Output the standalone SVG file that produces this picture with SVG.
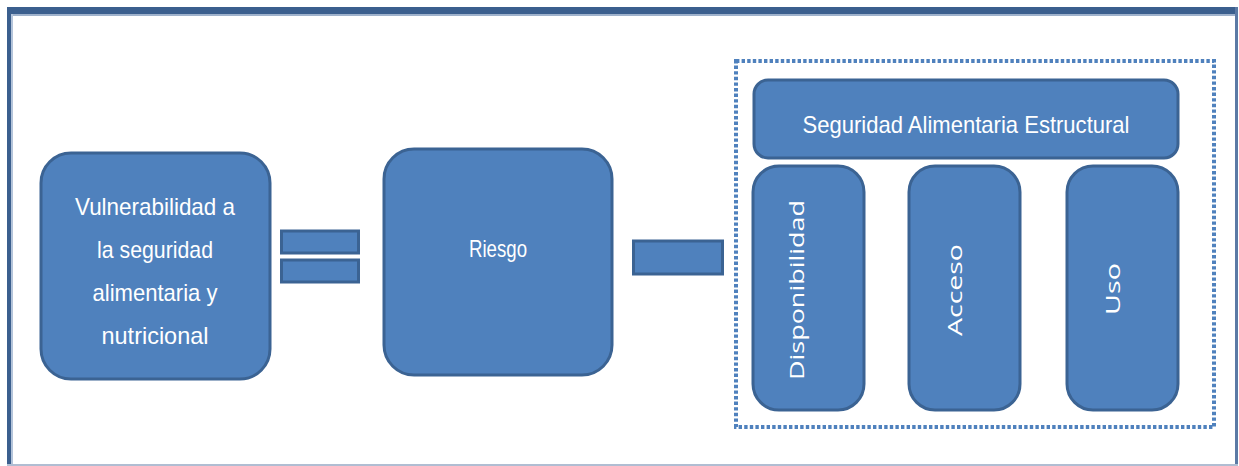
<svg xmlns="http://www.w3.org/2000/svg" width="1239" height="466" viewBox="0 0 1239 466">
<defs>
<style>
.box{fill:#4f81bd;stroke:#3b6393;stroke-width:3}
.op{fill:#4f81bd;stroke:#3b6393;stroke-width:3}
.t{font-family:"Liberation Sans Narrow","Liberation Sans",Arial,sans-serif;fill:#ffffff;font-size:24px;text-anchor:middle}
.v{font-family:"Open Sans","DejaVu Sans",sans-serif;fill:#ffffff;font-size:20px;text-anchor:middle}
</style>
</defs>
<rect x="0" y="0" width="1239" height="466" fill="#ffffff"/>
<g id="frame">
<rect x="7" y="7" width="1231" height="7" fill="#3b5f8e"/>
<rect x="7" y="14" width="1231" height="2" fill="#9fb2cc"/>
<rect x="7" y="7" width="4" height="459" fill="#3b5f8e"/>
<rect x="11" y="14" width="2" height="452" fill="#b4c4da"/>
<rect x="1235" y="7" width="3" height="459" fill="#5b7aa5"/>
<rect x="7" y="464" width="1231" height="2" fill="#b0bdd2"/>
</g>
<g id="group-dotted">
<rect x="736" y="61" width="478" height="366" fill="none" stroke="#4f81bd" stroke-width="4" stroke-dasharray="3.4 2.2"/>
</g>
<g id="vulnerabilidad">
<rect class="box" x="41" y="153" width="229" height="226" rx="30"/>
<text class="t" x="155" y="215" textLength="160" lengthAdjust="spacingAndGlyphs">Vulnerabilidad a</text>
<text class="t" x="155" y="258" textLength="116" lengthAdjust="spacingAndGlyphs">la seguridad</text>
<text class="t" x="155" y="301" textLength="125" lengthAdjust="spacingAndGlyphs">alimentaria y</text>
<text class="t" x="155" y="344" textLength="107" lengthAdjust="spacingAndGlyphs">nutricional</text>
</g>
<g id="riesgo">
<rect class="box" x="384" y="149" width="228" height="226" rx="30"/>
<text class="t" x="498" y="257" textLength="58" lengthAdjust="spacingAndGlyphs">Riesgo</text>
</g>
<g id="seguridad">
<rect class="box" x="754" y="80" width="424" height="78" rx="14"/>
<text class="t" x="966" y="133" textLength="327" lengthAdjust="spacingAndGlyphs">Seguridad Alimentaria Estructural</text>
</g>
<g id="disponibilidad">
<rect class="box" x="753" y="166" width="111" height="244" rx="26"/>
<text class="v" transform="translate(804 290) rotate(-90)" textLength="180" lengthAdjust="spacingAndGlyphs">Disponibilidad</text>
</g>
<g id="acceso">
<rect class="box" x="909" y="166" width="111" height="244" rx="26"/>
<text class="v" transform="translate(962 290) rotate(-90)" textLength="92" lengthAdjust="spacingAndGlyphs">Acceso</text>
</g>
<g id="uso">
<rect class="box" x="1067" y="166" width="111" height="244" rx="26"/>
<text class="v" transform="translate(1120 289) rotate(-90)" textLength="52" lengthAdjust="spacingAndGlyphs">Uso</text>
</g>
<g id="connectors">
<rect class="op" x="281.5" y="231" width="77" height="22"/>
<rect class="op" x="281.5" y="260" width="77" height="22"/>
<rect class="op" x="633.5" y="241" width="89" height="33"/>
</g>
</svg>
